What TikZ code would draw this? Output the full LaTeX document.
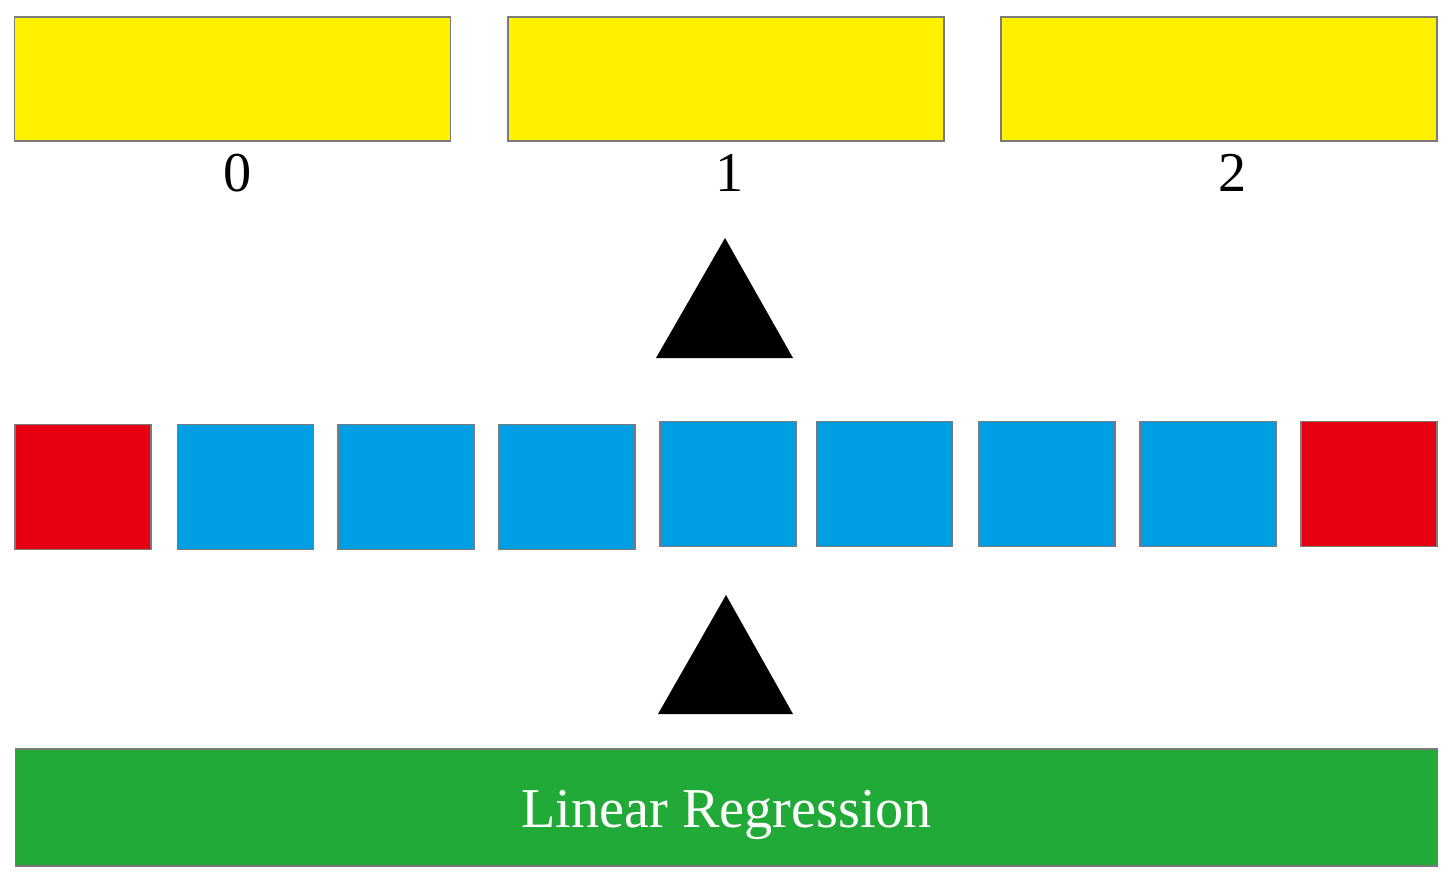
\documentclass[tikz,border=0pt]{standalone}
\usepackage{fontspec}
\setmainfont{Liberation Serif}
\definecolor{ybox}{HTML}{FFF100}
\definecolor{bbox}{HTML}{009FE3}
\definecolor{rbox}{HTML}{E60012}
\definecolor{gbox}{HTML}{22AA38}
\definecolor{edge}{HTML}{7A7A7A}
\begin{document}
\begin{tikzpicture}[x=0.02cm,y=-0.02cm,
  box/.style={draw=edge,line width=0.7pt,inner sep=0pt,outer sep=0pt},
  ybar/.style={box,fill=ybox,minimum width=8.72cm,minimum height=2.48cm},
  cell/.style={box,minimum width=2.72cm,minimum height=2.5cm},
  bcell/.style={cell,fill=bbox},
  rcell/.style={cell,fill=rbox},
  lbl/.style={font=\fontsize{32}{38}\selectfont,anchor=base,inner sep=0pt},
  tri/.style={fill=black}]
\useasboundingbox (0,0) rectangle (1453,886);
% top bars
\node[ybar] (y0) at (232.5,79) {};
\node[ybar] (y1) at (726,79) {};
\node[ybar] (y2) at (1219,79) {};
\node[lbl] (l0) at (238,191) {0};
\node[lbl] (l1) at (730,191) {1};
\node[lbl] (l2) at (1233,191) {2};
% upper triangle
\coordinate (t1a) at (725,238);
\coordinate (t1b) at (656,358);
\coordinate (t1c) at (793,358);
\fill[tri] (t1a) -- (t1b) -- (t1c) -- cycle;
% squares
\node[rcell] (s1) at (83,487) {};
\node[bcell] (s2) at (245.5,487) {};
\node[bcell] (s3) at (406,487) {};
\node[bcell] (s4) at (567,487) {};
\node[bcell] (s5) at (728,484) {};
\node[bcell] (s6) at (884.5,484) {};
\node[bcell] (s7) at (1047,484) {};
\node[bcell] (s8) at (1208,484) {};
\node[rcell] (s9) at (1369,484) {};
% lower triangle
\coordinate (t2a) at (726,595);
\coordinate (t2b) at (658,714);
\coordinate (t2c) at (793,714);
\fill[tri] (t2a) -- (t2b) -- (t2c) -- cycle;
% green bar
\node[box,fill=gbox,minimum width=28.46cm,minimum height=2.34cm] (lr) at (726.5,807.5) {};
\node[lbl,text=white] (lrt) at (726.5,827) {Linear Regression};
\end{tikzpicture}
\end{document}
